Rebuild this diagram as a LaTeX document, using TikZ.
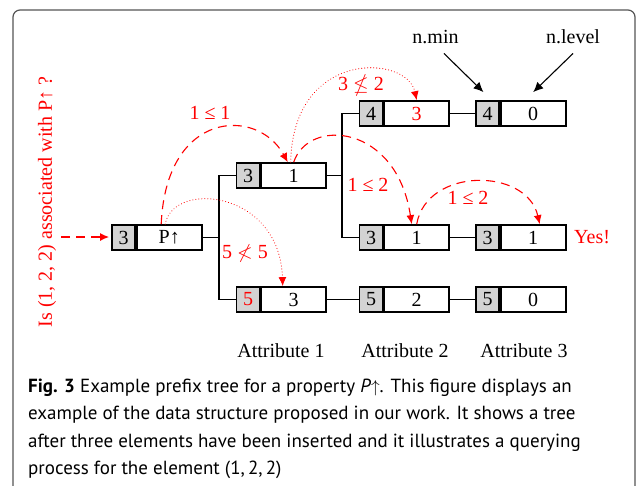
\documentclass[tikz,border=0pt]{standalone}
\usepackage{amssymb}
\usepackage{fontspec}
\setmainfont{Liberation Serif}
\newfontfamily\capfont{PT Sans}
\usetikzlibrary{arrows.meta,calc}

\definecolor{cellgray}{HTML}{D3D3D3}
\definecolor{qred}{HTML}{FF0000}
\definecolor{framegray}{HTML}{555555}

\begin{document}
\begin{tikzpicture}[x=1pt,y=-1pt,
  txt/.style={font=\fontsize{20}{24}\selectfont,inner sep=0pt},
  keycell/.style={txt,draw,line width=1.7pt,fill=cellgray,minimum width=23pt,minimum height=25pt},
  valcell/.style={txt,draw,line width=1.7pt,fill=white,minimum width=65pt,minimum height=25pt,anchor=west},
  link/.style={line width=1.2pt},
  redtxt/.style={txt,text=qred},
  qtip/.style={-{Latex[length=9pt,width=8pt]}},
  qdash/.style={qred,line width=1.1pt,dash pattern=on 9pt off 6pt,qtip},
  qdot/.style={qred,line width=1.1pt,line cap=round,dash pattern=on 0.01pt off 3pt,qtip},
  ptr/.style={line width=1.1pt,-{Latex[length=10pt,width=9pt]}},
  caption/.style={font=\capfont\fontsize{19}{23}\selectfont,inner sep=0pt,anchor=base west}
]
\useasboundingbox (0,0) rectangle (637,485);
\fill[white] (0,0) rectangle (637,485);

% outer frame, open at the bottom
\draw[framegray,line width=1.2pt,rounded corners=7pt] (13,495) -- (13,10) -- (635,10) -- (635,495);

% root of the prefix tree
\node[keycell] (pk) at (123.5,237.5) {3};
\node[valcell] (pv) at (pk.east) {P↑};

% attribute 1
\node[keycell] (a1tk) at (248,175.5) {3};
\node[valcell] (a1tv) at (a1tk.east) {1};
\node[keycell,text=qred] (a1bk) at (248,299.5) {5};
\node[valcell] (a1bv) at (a1bk.east) {3};

% attribute 2
\node[keycell] (a2tk) at (371,113.5) {4};
\node[valcell,text=qred] (a2tv) at (a2tk.east) {3};
\node[keycell] (a2mk) at (371,237.5) {3};
\node[valcell] (a2mv) at (a2mk.east) {1};
\node[keycell] (a2bk) at (371,299.5) {5};
\node[valcell] (a2bv) at (a2bk.east) {2};

% attribute 3
\node[keycell] (a3tk) at (487.5,113.5) {4};
\node[valcell] (a3tv) at (a3tk.east) {0};
\node[keycell] (a3mk) at (487.5,237.5) {3};
\node[valcell] (a3mv) at (a3mk.east) {1};
\node[keycell] (a3bk) at (487.5,299.5) {5};
\node[valcell] (a3bv) at (a3bk.east) {0};

% tree edges
\coordinate (f1) at (219,237.5);
\coordinate (f2) at (342,175.5);
\draw[link] (pv.east) -- (f1);
\draw[link] (a1tk.west) -| (f1) |- (a1bk.west);
\draw[link] (a1tv.east) -- (f2);
\draw[link] (a2tk.west) -| (f2) |- (a2mk.west);
\draw[link] (a1bv.east) -- (a2bk.west);
\draw[link] (a2tv.east) -- (a3tk.west);
\draw[link] (a2mv.east) -- (a3mk.west);
\draw[link] (a2bv.east) -- (a3bk.west);

% column titles
\node[txt,anchor=base] (t1) at (281,357) {Attribute 1};
\node[txt,anchor=base] (t2) at (405,357) {Attribute 2};
\node[txt,anchor=base] (t3) at (524,357) {Attribute 3};

% field names
\node[txt,anchor=base] (nmin) at (435.5,43) {n.min};
\node[txt,anchor=base] (nlev) at (573,43) {n.level};
\draw[ptr] ([xshift=8.5pt,yshift=-10pt]nmin.south) -- ([xshift=-4pt,yshift=8pt]a3tk.north);
\draw[ptr] ([yshift=-10pt]nlev.south) -- ([yshift=8pt]a3tv.north);

% the query
\node[redtxt,rotate=90] (q) at (47,202) {Is (1, 2, 2) associated with P↑ ?};
\coordinate (qs) at (61,237);
\draw[qdash,line width=1.4pt,shorten >=2pt] (qs) -- ([yshift=0.5pt]pk.west);

\draw[qdash] ([xshift=-8pt]pv.north) .. controls +(5,-115) and +(-30,-55) .. ([xshift=-6pt]a1tv.north);
\node[redtxt] (l1) at (210,113) {1 ≤ 1};

\draw[qdot] ([xshift=-4pt]pv.north) .. controls +(8,-44) and +(-3,-96) .. ([xshift=-11pt]a1bv.north);
\node[redtxt] (l2) at (245,253) {5 $\nless$ 5};

\draw[qdot] ([xshift=-3pt]a1tv.north) .. controls +(2,-113) and +(-10,-46) .. (a2tv.north);
\node[redtxt] (l3) at (361,86) {3 $\nleq$ 2};

\draw[qdash] (a1tv.north) .. controls +(15,-45) and +(-15,-100) .. ([xshift=-5pt]a2mv.north);
\node[redtxt] (l4) at (368,185) {1 ≤ 2};

\draw[qdash] (a2mv.north) .. controls +(10,-57) and +(-13,-57) .. ([xshift=6.5pt]a3mv.north);
\node[redtxt] (l5) at (468,198) {1 ≤ 2};

\node[redtxt,anchor=base west] (yes) at (574,243) {Yes!};

% caption
\node[caption] (c1) at (28,392) {\textbf{Fig. 3} Example prefix tree for a property \textit{P}$\uparrow$. This figure displays an};
\node[caption] (c2) at (28,419.5) {example of the data structure proposed in our work. It shows a tree};
\node[caption] (c3) at (28,447) {after three elements have been inserted and it illustrates a querying};
\node[caption] (c4) at (28,474) {process for the element (1,\,2,\,2)};
\end{tikzpicture}
\end{document}
